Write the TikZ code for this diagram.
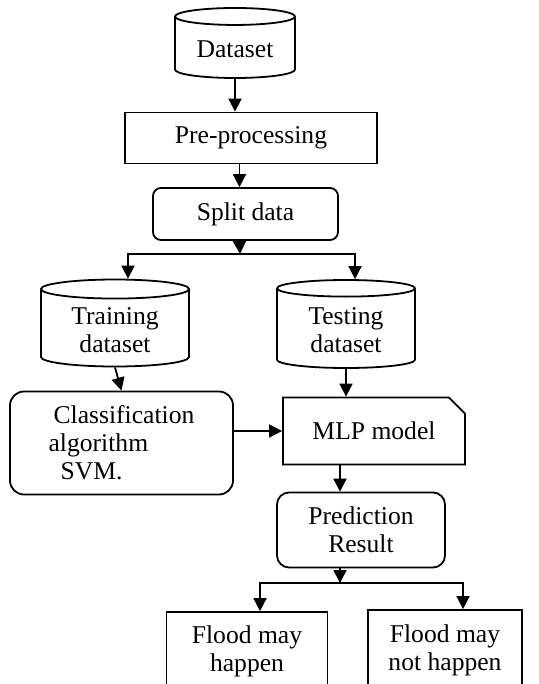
\documentclass[tikz,border=0pt]{standalone}
\usepackage{fontspec}
\setmainfont{Liberation Serif}
\usetikzlibrary{arrows.meta,positioning,shapes.geometric,shapes.misc,calc}
\tikzset{
  fc/base/.style={draw, line width=0.9pt, align=center, inner sep=2pt, font=\fontsize{12.8}{14}\selectfont},
  fc/db/.style={fc/base, cylinder, shape border rotate=90, aspect=0.2, anchor=shape center},
  fc/proc/.style={fc/base, rectangle},
  fc/round/.style={fc/base, rectangle, rounded corners=#1},
  fc/round/.default=4pt,
  fc/card/.style={fc/base, chamfered rectangle, chamfered rectangle corners=north east, chamfered rectangle xsep=5pt},
  fc/line/.style={line width=0.9pt},
  fc/arr/.style={fc/line, -{Triangle[length=6.5pt,width=6.5pt]}}
}
\begin{document}
\begin{tikzpicture}[x=0.5pt, y=-0.5pt]
  \useasboundingbox (0,0) rectangle (538,684);
  \clip (0,0) rectangle (538,684);

  \node[fc/db, minimum width=60pt, minimum height=35pt] (data) at (235,43) {Dataset};
  \node[fc/proc, minimum width=126pt, minimum height=25.5pt] (pre) at (251,138) {Pre-processing};
  \node[fc/round, minimum width=92.5pt, minimum height=26pt] (split) at (245.5,214) {Split data};
  \node[fc/db, minimum width=74pt, minimum height=43.5pt] (train) at (115,323) {Training\\dataset};
  \node[fc/db, minimum width=69pt, minimum height=44pt] (test) at (346,324) {Testing\\dataset};
  \node[fc/round=7pt, align=left, minimum width=111.5pt, minimum height=51.5pt] (cls) at (121.5,443)
    {\hspace*{2.5pt}Classification\\algorithm\\\hspace*{6pt}SVM.};
  \node[fc/card, minimum width=91pt, minimum height=33.5pt] (mlp) at (374,431) {MLP model};
  \node[fc/round=6pt, minimum width=84pt, minimum height=37.5pt] (pred) at (361,530) {Prediction\\Result};
  \node[fc/proc, minimum width=80.5pt, minimum height=39pt] (yes) at (247,651) {Flood may\\happen};
  \node[fc/proc, minimum width=77pt, minimum height=40pt] (no) at (445,650) {Flood may\\not happen};

  \coordinate (fork1) at (240,254);
  \coordinate (fork2) at (340,583);

  \draw[fc/arr] (data.south) -- (data.south |- pre.north);
  \draw[fc/arr] ([xshift=-3pt]split.north |- pre.south) -- ([xshift=-3pt]split.north);
  \draw[fc/arr] ([xshift=-3pt]split.south) -- (fork1);
  \draw[fc/arr] (fork1) -| ([xshift=6.5pt]train.north);
  \draw[fc/arr] (fork1) -| ([xshift=4.5pt]test.north);
  \draw[fc/arr] (train.south) -- (cls.north);
  \draw[fc/arr] (test.south) -- (test.south |- mlp.north);
  \draw[fc/arr] (cls.east |- mlp.west) -- (mlp.west);
  \draw[fc/arr] ([xshift=-10.5pt]pred.north |- mlp.south) -- ([xshift=-10.5pt]pred.north);
  \draw[fc/arr] ([xshift=-10.5pt]pred.south) -- (fork2);
  \draw[fc/arr] (fork2) -| ([xshift=6.5pt]yes.north);
  \draw[fc/arr] (fork2) -| ([xshift=9pt]no.north);
\end{tikzpicture}
\end{document}
